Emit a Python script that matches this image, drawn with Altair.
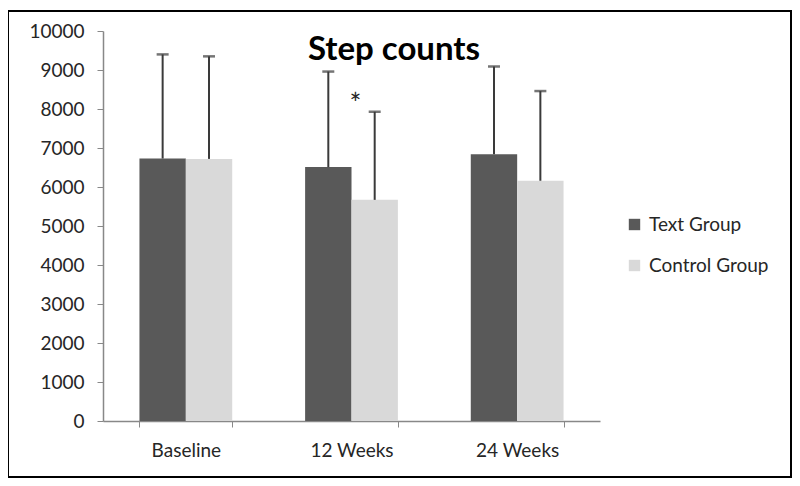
import altair as alt
import pandas as pd

categories = ["Baseline", "12 Weeks", "24 Weeks"]
groups = ["Text Group", "Control Group"]
text_mean = [6730, 6510, 6840]
text_upper = [9400, 8960, 9090]
control_mean = [6720, 5670, 6160]
control_upper = [9350, 7930, 8460]
y_ticks = [0, 1000, 2000, 3000, 4000, 5000, 6000, 7000, 8000, 9000, 10000]
star_category = "12 Weeks"
star_value = 8080
title_text = "Step counts"

rows = []
for i, c in enumerate(categories):
    rows.append({"category": c, "group": groups[0], "mean": text_mean[i], "upper": text_upper[i]})
    rows.append({"category": c, "group": groups[1], "mean": control_mean[i], "upper": control_upper[i]})
df = pd.DataFrame(rows)

FONT = "Lato"
TXT = "#262626"

x_axis = alt.Axis(title=None, labelAngle=0, tickBand="extent", labelPadding=14)
x_scale = alt.Scale(domain=categories, paddingInner=0.44, paddingOuter=0.22)
xo_enc = alt.XOffset("group:N", sort=groups,
                     scale=alt.Scale(domain=groups, paddingInner=0, paddingOuter=0))
y_scale = alt.Scale(domain=[0, 10000])
y_axis = alt.Axis(title=None, values=y_ticks, format="d", labelOverlap=False, labelPadding=13)


def X():
    return alt.X("category:N", sort=categories, scale=x_scale, axis=x_axis)


def Y(field):
    return alt.Y(field, scale=y_scale, axis=y_axis)


color_enc = alt.Color("group:N", sort=groups,
                      scale=alt.Scale(domain=groups, range=["#595959", "#d9d9d9"]),
                      legend=alt.Legend(title=None, orient="none", legendX=522, legendY=184,
                                        symbolType="square", symbolSize=130,
                                        symbolStrokeWidth=0, labelFont=FONT,
                                        labelFontSize=19, labelColor=TXT, rowPadding=21,
                                        labelOffset=5))

base = alt.Chart(df)
bars = base.mark_bar().encode(x=X(), xOffset=xo_enc, y=Y("mean:Q"), color=color_enc)
rules = base.mark_rule(color="#3a3a3a", strokeWidth=2).encode(
    x=X(), xOffset=xo_enc, y=Y("mean:Q"), y2="upper:Q")
caps = base.mark_tick(color="#3a3a3a", thickness=2.5, size=12).encode(
    x=X(), xOffset=xo_enc, y=Y("upper:Q"))

star = alt.Chart(pd.DataFrame({"category": [star_category], "mean": [star_value], "t": ["*"]})).mark_text(
    font=FONT, fontSize=28, color=TXT, dx=4, baseline="middle").encode(
    x=X(), y=Y("mean:Q"), text="t:N")

title = alt.Chart(pd.DataFrame({"t": [title_text]})).mark_text(
    font=FONT, fontSize=33, fontWeight="bold", color="#000000", align="center",
    baseline="alphabetic").encode(x=alt.value(291), y=alt.value(29), text="t:N")

border = alt.Chart(pd.DataFrame({"a": [0]})).mark_rect(
    filled=False, stroke="#000000", strokeWidth=2).encode(
    x=alt.value(-95), x2=alt.value(688), y=alt.value(-20), y2=alt.value(446))

chart = alt.layer(bars, rules, caps, star, title, border).properties(
    width=497, height=390,
    autosize=alt.AutoSizeParams(type="none"),
    padding={"left": 95, "top": 23, "right": 192, "bottom": 60},
).configure_view(stroke=None).configure_axis(
    labelFont=FONT, labelFontSize=19, labelColor=TXT, labelOverlap=False,
    domainColor="#888888", tickColor="#888888", tickSize=6, domainWidth=1.5, grid=False
)

chart.save("out.html", embed_options={"renderer": "svg", "actions": False})
